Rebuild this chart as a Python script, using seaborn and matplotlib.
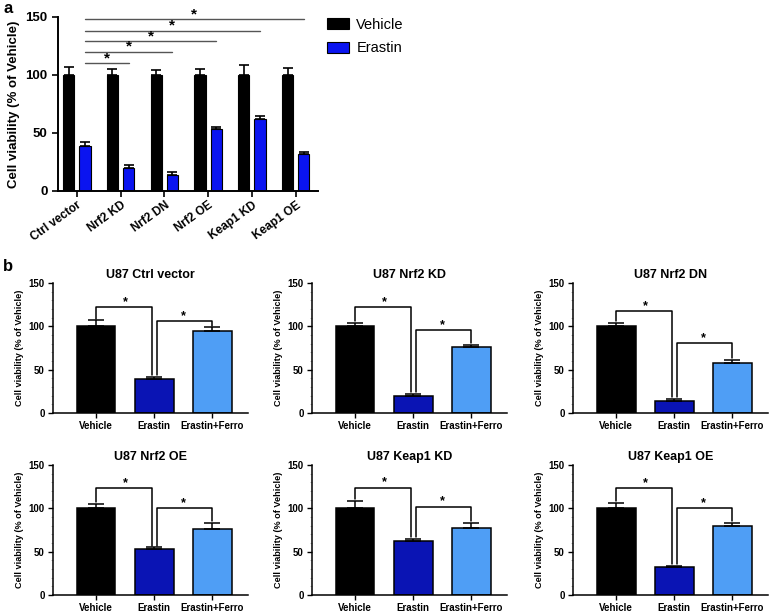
import numpy as np
import pandas as pd
import matplotlib
matplotlib.use("Agg")
import matplotlib.pyplot as plt
from matplotlib.ticker import MultipleLocator
import seaborn as sns

# ---------------- data ----------------
groups = ["Ctrl vector", "Nrf2 KD", "Nrf2 DN", "Nrf2 OE", "Keap1 KD", "Keap1 OE"]
a_vehicle = [100, 100, 100, 100, 100, 100]
a_vehicle_err = [7, 5, 4, 5, 9, 6]
a_erastin = [39, 20, 14, 53, 62, 32]
a_erastin_err = [3, 2, 2, 2, 3, 2]
a_sig_heights = [110, 120, 129, 138, 148]  # Ctrl vector Erastin vs each other Erastin

b_titles = ["U87 Ctrl vector", "U87 Nrf2 KD", "U87 Nrf2 DN",
            "U87 Nrf2 OE", "U87 Keap1 KD", "U87 Keap1 OE"]
treatments = ["Vehicle", "Erastin", "Erastin+Ferro"]
b_vehicle = [100, 100, 100, 100, 100, 100]
b_vehicle_err = [7, 4, 4, 5, 9, 6]
b_erastin = [39, 20, 14, 53, 62, 32]
b_erastin_err = [3, 2, 2, 2, 3, 2]
b_ferro = [95, 76, 58, 76, 77, 80]
b_ferro_err = [4, 3, 3, 7, 6, 3]
b_bracket1 = [122, 122, 118, 123, 124, 123]
b_bracket2 = [106, 96, 81, 100, 102, 100]

# ---------------- style ----------------
sns.set_style("ticks")
plt.rcParams["font.family"] = ["Liberation Sans", "DejaVu Sans"]
plt.rcParams["font.weight"] = "bold"
plt.rcParams["axes.labelweight"] = "bold"
plt.rcParams["axes.titleweight"] = "bold"
for key in ["text.color", "axes.labelcolor", "xtick.color", "ytick.color",
            "axes.edgecolor", "xtick.labelcolor", "ytick.labelcolor"]:
    plt.rcParams[key] = "black"

col_a = {"Vehicle": "#000000", "Erastin": "#0a14f0"}
col_b = {"Vehicle": "#000000", "Erastin": "#0a14b4", "Erastin+Ferro": "#4f9ef5"}

fig = plt.figure(figsize=(7.75, 6.14), dpi=100)

# ---------------- panel a ----------------
ax = fig.add_axes([0.0748, 0.689, 0.3355, 0.2834])
df_a = pd.DataFrame({
    "group": groups * 2,
    "treat": ["Vehicle"] * len(groups) + ["Erastin"] * len(groups),
    "val": a_vehicle + a_erastin,
})
sns.barplot(data=df_a, x="group", y="val", hue="treat", palette=col_a,
            width=0.74, gap=0.3, errorbar=None, edgecolor="black",
            linewidth=0.8, ax=ax, saturation=1)
errs = [a_vehicle_err, a_erastin_err]
bar_conts = list(ax.containers)
erastin_x = []
for ci, cont in enumerate(bar_conts):
    for bi, bar in enumerate(cont):
        xc = bar.get_x() + bar.get_width() / 2
        h = bar.get_height()
        ax.errorbar(xc, h, yerr=[[0], [errs[ci][bi]]], fmt="none",
                    ecolor="black", elinewidth=1.2, capsize=3.5, capthick=1.2)
        if ci == 1:
            erastin_x.append(xc)
for i, h in enumerate(a_sig_heights):
    x0, x1 = erastin_x[0], erastin_x[i + 1]
    ax.plot([x0, x1], [h, h], color="#555555", lw=1.0, clip_on=False)
    ax.text((x0 + x1) / 2, h - 1.5, "*", ha="center", va="bottom",
            fontsize=11, fontweight="bold", clip_on=False)
ax.set_ylim(0, 150)
ax.set_xlim(-0.43, 5.51)
ax.set_yticks([0, 50, 100, 150])
ax.set_xlabel("")
ax.set_ylabel("Cell viability (% of Vehicle)", fontsize=9.5, labelpad=4)
ax.tick_params(axis="y", labelsize=9.5, width=1.2, length=4)
ax.tick_params(axis="x", labelsize=8.5, width=1.2, length=4, pad=2)
for lab in ax.get_xticklabels():
    lab.set_rotation(36)
    lab.set_ha("right")
    lab.set_rotation_mode("anchor")
    lab.set_fontweight("bold")
for lab in ax.get_yticklabels():
    lab.set_fontweight("bold")
for s in ["left", "bottom"]:
    ax.spines[s].set_linewidth(1.4)
sns.despine(ax=ax)
leg = ax.legend(loc="upper left", bbox_to_anchor=(0.985, 1.07), frameon=False,
                handlelength=1.5, handleheight=0.8, handletextpad=0.5,
                labelspacing=0.65, prop={"size": 10.5, "weight": "normal"})
fig.text(0.004, 0.998, "a", fontsize=12, fontweight="bold", va="top")

# ---------------- panel b ----------------
lefts = [0.0684, 0.4026, 0.7394]
bottoms = [0.3274, 0.031]
means_all = [b_vehicle, b_erastin, b_ferro]
errs_all = [b_vehicle_err, b_erastin_err, b_ferro_err]
for k, title in enumerate(b_titles):
    r, c = divmod(k, 3)
    ax = fig.add_axes([lefts[c], bottoms[r], 0.252, 0.2115])
    vals = [m[k] for m in means_all]
    ers = [e[k] for e in errs_all]
    df_b = pd.DataFrame({"treat": treatments, "val": vals})
    sns.barplot(data=df_b, x="treat", y="val", hue="treat", palette=col_b,
                width=0.67, errorbar=None, edgecolor="black", linewidth=1.1,
                legend=False, ax=ax, saturation=1)
    for i in range(3):
        ax.errorbar(i, vals[i], yerr=[[0], [ers[i]]], fmt="none",
                    ecolor="black", elinewidth=1.1, capsize=6, capthick=1.1)
    top = [vals[i] + ers[i] for i in range(3)]
    h1, h2 = b_bracket1[k], b_bracket2[k]
    off = 0.045
    ax.plot([0, 0, 1 - off, 1 - off], [top[0] + 2, h1, h1, top[1] + 2],
            color="black", lw=1.1)
    ax.plot([1 + off, 1 + off, 2, 2], [top[1] + 2, h2, h2, top[2] + 2],
            color="black", lw=1.1)
    ax.text(0.5, h1 - 1, "*", ha="center", va="bottom", fontsize=9,
            fontweight="bold")
    ax.text(1.5, h2 - 1, "*", ha="center", va="bottom", fontsize=9,
            fontweight="bold")
    ax.set_ylim(0, 150)
    ax.set_xlim(-0.74, 2.62)
    ax.set_yticks([0, 50, 100, 150])
    ax.yaxis.set_minor_locator(MultipleLocator(10))
    ax.set_xlabel("")
    ax.set_ylabel("Cell viability (% of Vehicle)", fontsize=6.6, labelpad=3)
    ax.set_title(title, fontsize=9, fontweight="bold", pad=4)
    ax.tick_params(axis="both", which="major", labelsize=7, width=1.0,
                   length=3.5, pad=2.5)
    ax.tick_params(axis="y", which="minor", width=0.5, length=1.8, color="#999999")
    for lab in ax.get_xticklabels() + ax.get_yticklabels():
        lab.set_fontweight("bold")
    for s in ["left", "bottom"]:
        ax.spines[s].set_linewidth(1.1)
    sns.despine(ax=ax)
fig.text(0.004, 0.578, "b", fontsize=12, fontweight="bold", va="top")

fig.savefig("out.png", dpi=100)
